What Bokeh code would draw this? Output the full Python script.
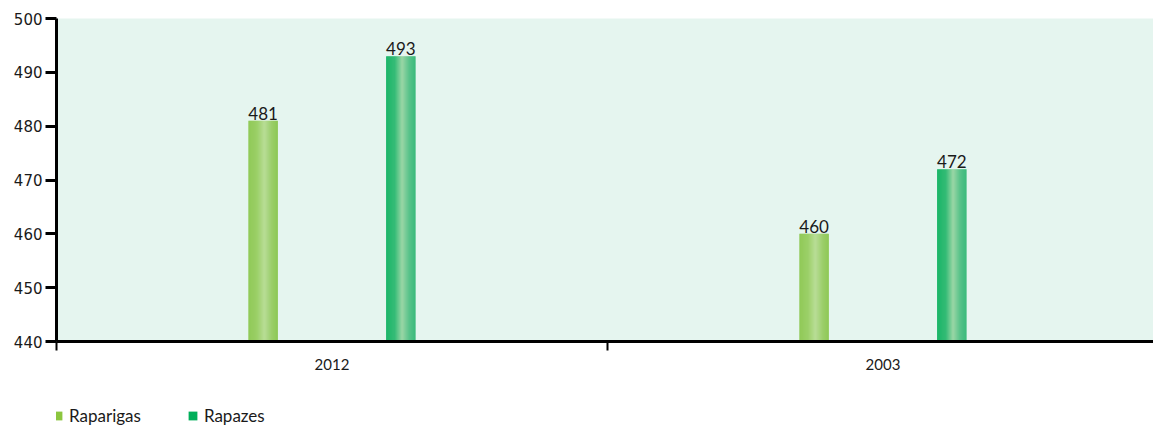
from bokeh.plotting import figure
from bokeh.layouts import column
from bokeh.models import (Range1d, FixedTicker, Legend, LegendItem, ColumnDataSource,
                          LabelSet)
from bokeh.core.properties import value
from bokeh.embed import file_html
from bokeh.resources import INLINE

years = ["2012", "2003"]
raparigas = [481, 460]
rapazes = [493, 472]
series_names = ["Raparigas", "Rapazes"]
series_values = [raparigas, rapazes]
y_ticks = [440, 450, 460, 470, 480, 490, 500]

BASE = 440
bar_w = 0.053
offsets = [-0.125, 0.125]
# gradient colour stops (position, colour) per series
grad = [
    [(0.0, "#7DC036"), (0.3, "#8CC84B"), (0.55, "#B0D886"), (0.8, "#8EC752"), (1.0, "#80C23D")],
    [(0.0, "#00AD56"), (0.3, "#17B262"), (0.55, "#8CD098"), (0.8, "#38B774"), (1.0, "#16AE62")],
]
legend_colors = ["#8CC63F", "#00AF5A"]

p = figure(width=1153, height=372, output_backend="svg", toolbar_location=None,
           x_range=Range1d(0, 1.991), y_range=Range1d(440, 500),
           min_border_left=56, min_border_right=0, min_border_top=18, min_border_bottom=31)
p.background_fill_color = "#E5F5EF"
p.border_fill_color = "white"
p.outline_line_color = None
p.grid.grid_line_color = None


def hex2rgb(h):
    return tuple(int(h[i:i + 2], 16) for i in (1, 3, 5))


def grad_color(stops, t):
    for (p0, c0), (p1, c1) in zip(stops[:-1], stops[1:]):
        if p0 <= t <= p1:
            u = (t - p0) / (p1 - p0)
            a, b = hex2rgb(c0), hex2rgb(c1)
            return "#%02x%02x%02x" % tuple(int(round(x + (y - x) * u)) for x, y in zip(a, b))
    return stops[-1][1]


N = 29
for si, vals in enumerate(series_values):
    xs_c = [i + 0.5 + offsets[si] for i in range(len(years))]
    for k in range(N):
        t = (k + 0.5) / N
        col = grad_color(grad[si], t)
        xs = [xc - bar_w / 2 + (k + 0.5) * bar_w / N for xc in xs_c]
        p.vbar(x=xs, top=vals, bottom=BASE, width=bar_w / N * 1.15,
               fill_color=col, line_color=None)
    src = ColumnDataSource(dict(x=xs_c, y=vals, t=[str(v) for v in vals]))
    p.add_layout(LabelSet(x="x", y="y", text="t", source=src, text_align="center",
                          text_baseline="bottom", y_offset=1, text_font=value("Lato"),
                          text_font_size=value("17px"), text_color="#1a1a1a"))

# x axis
p.xaxis.ticker = FixedTicker(ticks=[i + 0.5 for i in range(len(years))],
                             minor_ticks=[0, 1, 2])
p.xaxis.major_label_overrides = {i + 0.5: y for i, y in enumerate(years)}
p.xaxis.major_tick_out = 0
p.xaxis.major_tick_in = 0
p.xaxis.minor_tick_out = 9
p.xaxis.minor_tick_in = 0
p.xaxis.minor_tick_line_width = 2
p.xaxis.minor_tick_line_color = "black"
p.xaxis.axis_line_width = 3
p.xaxis.axis_line_color = "black"
p.xaxis.major_label_text_font = "Lato"
p.xaxis.major_label_text_font_size = "15px"
p.xaxis.major_label_text_color = "#1a1a1a"
p.xaxis.major_label_standoff = 8

# y axis
p.yaxis.ticker = FixedTicker(ticks=y_ticks)
p.yaxis.major_tick_out = 11
p.yaxis.major_tick_in = 0
p.yaxis.major_tick_line_width = 3
p.yaxis.minor_tick_line_color = None
p.yaxis.axis_line_width = 3
p.yaxis.axis_line_color = "black"
p.yaxis.major_label_text_font = "DejaVu Sans"
p.yaxis.major_label_text_font_size = "15px"
p.yaxis.major_label_text_color = "#1a1a1a"
p.yaxis.major_label_standoff = 3

# legend in its own strip below
lf = figure(width=1153, height=53, output_backend="svg", toolbar_location=None,
            x_range=Range1d(0, 1), y_range=Range1d(0, 1),
            x_axis_location=None, y_axis_location=None, min_border=0)
lf.grid.grid_line_color = None
lf.outline_line_color = None
lf.background_fill_color = "white"
items = []
for name, col in zip(series_names, legend_colors):
    r = lf.vbar(x=[-5], top=[-5], bottom=-6, width=0.1, fill_color=col, line_color=None)
    items.append(LegendItem(label=name, renderers=[r]))
legend = Legend(items=items, orientation="horizontal", location=(-4, -1),
                glyph_width=11, glyph_height=11, label_text_font="Lato",
                label_text_font_size="17px", label_text_color="#1a1a1a",
                spacing=46, padding=0, margin=0, label_standoff=6,
                border_line_color=None, background_fill_alpha=0)
lf.add_layout(legend, "center")

open("out.html", "w").write(file_html(column(p, lf), INLINE))
